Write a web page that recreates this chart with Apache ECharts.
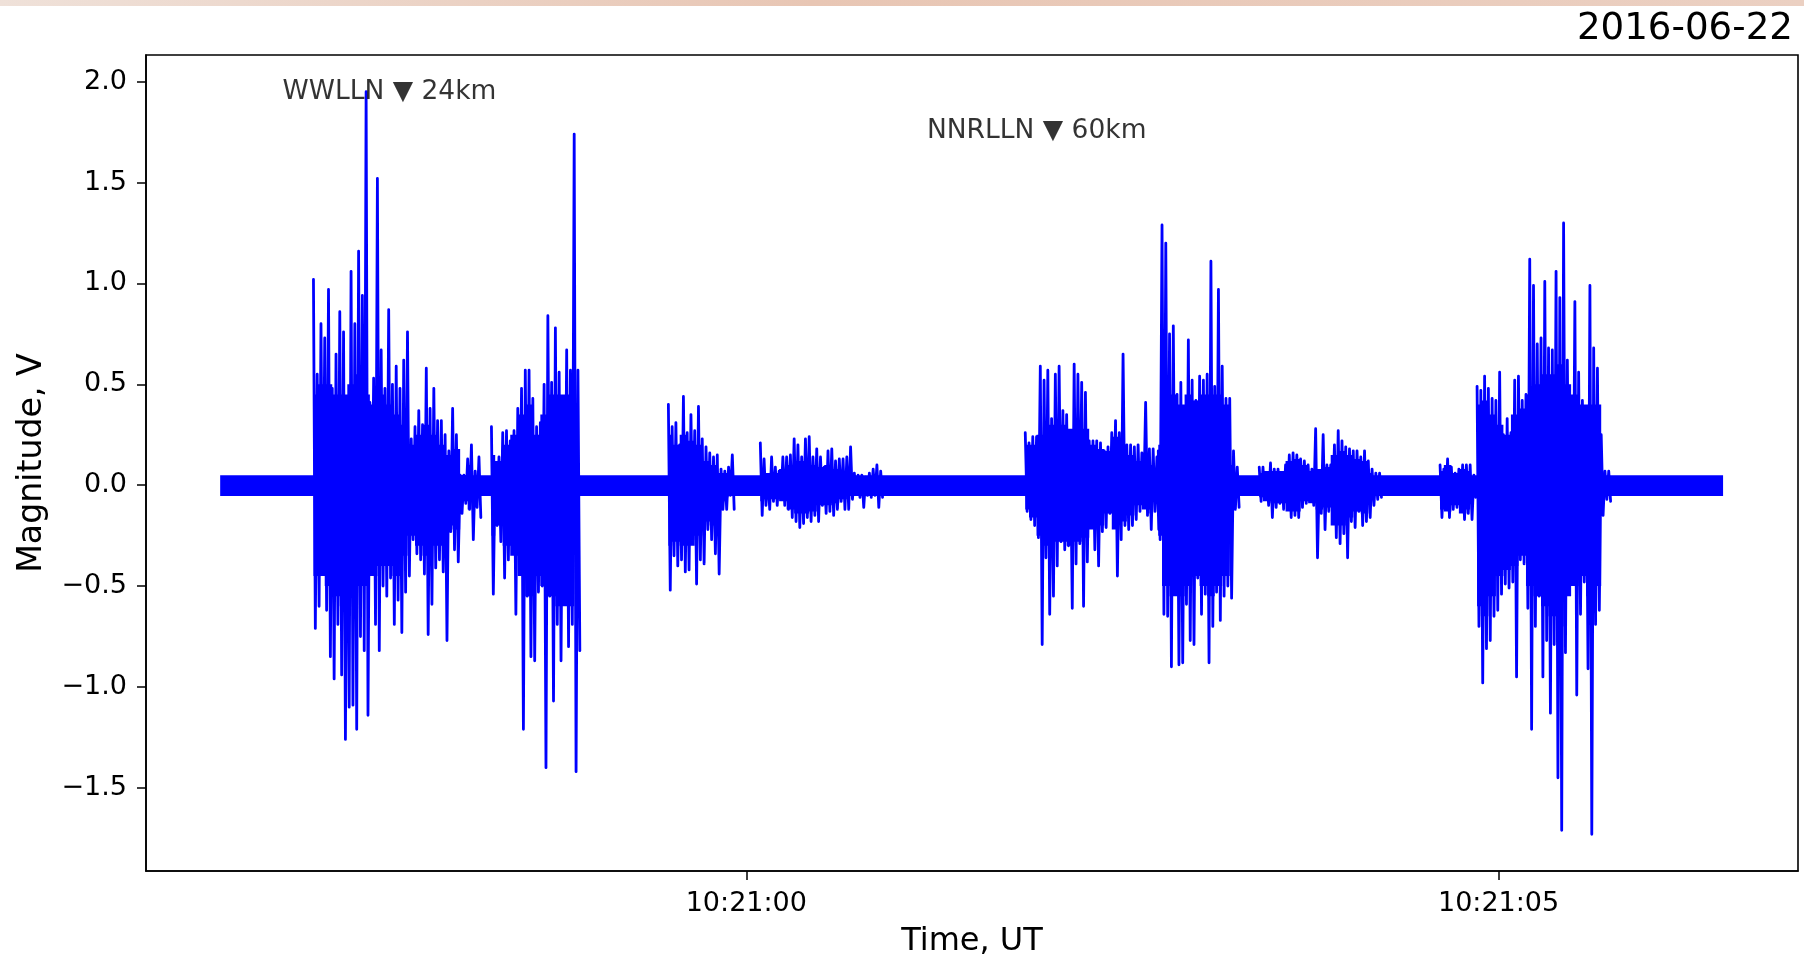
<!DOCTYPE html>
<html><head><meta charset="utf-8">
<script src="https://cdn.jsdelivr.net/npm/echarts@6/dist/echarts.min.js"></script>
<style>html,body{margin:0;padding:0;background:#fff}#c{width:1804px;height:955px}</style>
</head><body><div id="c"></div>
<script>
// ---- data (time in seconds relative to 10:21:00 UT, magnitude in V) ----
const dateTitle = '2016-06-22';
const xTickValues = [0, 5];
const xTickLabels = ['10:21:00', '10:21:05'];
const yTickValues = [-1.5, -1.0, -0.5, 0.0, 0.5, 1.0, 1.5, 2.0];
const xRange = [-3.99, 6.99];
const yRange = [-1.912, 2.132];
const sampleStep = 0.025;               // s between successive positive peaks
const coreStep = 0.05;                  // s between readings of the dense core envelope
const baselineSpan = [-3.497, 6.492];   // s, start/end of record
const baselineNoise = [-0.053, 0.049];  // V, quiet-noise band
const annotations = [
  ['WWLLN \u25BC 24km', -2.372, 1.950],
  ['NNRLLN \u25BC 60km', 1.930, 1.755]
];
const burstStarts = [-2.877, -1.694, -0.518, 0.093, 1.854, 2.738, 3.409, 4.611, 4.857];

// peak readings (alternating positive / negative excursions)
const b1Hi = [1.02,0.55,0.80,0.73,0.97,0.48,0.65,0.86,0.76,0.41,1.06,0.80,1.16,0.94,1.95,0.41,0.53,1.52,0.67,0.48,0.87,0.50,0.59,0.48,0.62,0.76,0.23,0.29,0.37,0.30,0.58,0.38,0.48,0.32,0.32,0.25,0.17,0.38,0.25,0.05,0.05,0.13,0.20,0.07,0.14];
const b1Lo = [-0.71,-0.60,-0.44,-0.62,-0.85,-0.96,-0.69,-0.94,-1.26,-1.10,-1.09,-1.21,-0.75,-0.82,-1.14,-0.43,-0.69,-0.82,-0.50,-0.55,-0.46,-0.69,-0.57,-0.73,-0.53,-0.45,-0.27,-0.34,-0.37,-0.44,-0.74,-0.59,-0.41,-0.37,-0.43,-0.77,-0.23,-0.32,-0.38,-0.14,-0.09,-0.12,-0.27,-0.11,-0.16];
const b2Hi = [0.29,0.11,0.14,0.26,0.27,0.22,0.27,0.38,0.48,0.57,0.57,0.43,0.29,0.31,0.50,0.84,0.51,0.78,0.56,0.43,0.67,0.57,1.74,0.57];
const b2Lo = [-0.54,-0.20,-0.28,-0.46,-0.37,-0.30,-0.64,-0.32,-1.21,-0.55,-0.85,-0.87,-0.53,-0.50,-1.40,-0.55,-1.07,-0.69,-0.87,-0.55,-0.80,-0.69,-1.42,-0.82];
const b3Hi = [0.40,0.29,0.31,0.20,0.44,0.26,0.35,0.27,0.39,0.23,0.19,0.16,0.14,0.15,0.08,0.07,0.09,0.15];
const b3Lo = [-0.52,-0.35,-0.40,-0.37,-0.43,-0.42,-0.27,-0.49,-0.37,-0.39,-0.22,-0.27,-0.34,-0.44,-0.12,-0.12,-0.05,-0.12];
const b4Hi = [0.21,0.13,0.05,0.14,0.09,0.07,0.14,0.14,0.15,0.23,0.20,0.14,0.23,0.24,0.14,0.18,0.14,0.09,0.17,0.18,0.12,0.13,0.13,0.14,0.19,0.06,0.05,0.05,0.04,0.06,0.08,0.10,0.07];
const b4Lo = [-0.15,-0.10,-0.12,-0.08,-0.10,-0.07,-0.10,-0.12,-0.16,-0.18,-0.21,-0.19,-0.16,-0.18,-0.15,-0.18,-0.10,-0.14,-0.13,-0.15,-0.12,-0.08,-0.12,-0.12,-0.07,-0.04,-0.06,-0.11,-0.05,-0.06,-0.05,-0.11,-0.06];
const b5Hi = [0.26,0.21,0.24,0.24,0.59,0.52,0.57,0.33,0.55,0.59,0.37,0.35,0.21,0.60,0.55,0.51,0.46,0.22,0.22,0.22,0.21,0.17,0.19,0.26,0.32,0.26,0.65,0.20,0.20,0.19,0.20,0.16,0.41,0.18,0.18,0.14];
const b5Lo = [-0.13,-0.17,-0.20,-0.26,-0.79,-0.36,-0.64,-0.55,-0.40,-0.28,-0.32,-0.30,-0.61,-0.39,-0.29,-0.60,-0.38,-0.21,-0.32,-0.40,-0.23,-0.21,-0.14,-0.17,-0.45,-0.27,-0.20,-0.22,-0.20,-0.17,-0.13,-0.08,-0.15,-0.22,-0.13,-0.22];
const b6Hi = [0.17,1.29,1.20,0.75,0.79,0.45,0.51,0.36,0.72,0.52,0.42,0.54,0.52,0.55,1.11,0.49,0.97,0.59,0.43,0.43,0.17,0.09];
const b6Lo = [-0.27,-0.64,-0.65,-0.90,-0.50,-0.89,-0.88,-0.59,-0.77,-0.79,-0.46,-0.64,-0.54,-0.88,-0.70,-0.53,-0.67,-0.55,-0.50,-0.56,-0.12,-0.11];
const b7Hi = [0.09,0.09,0.06,0.11,0.08,0.08,0.06,0.10,0.15,0.16,0.15,0.13,0.12,0.10,0.08,0.28,0.07,0.25,0.10,0.10,0.20,0.27,0.22,0.19,0.18,0.17,0.17,0.14,0.17,0.12,0.08,0.06,0.06];
const b7Lo = [-0.08,-0.07,-0.10,-0.16,-0.11,-0.09,-0.12,-0.10,-0.16,-0.15,-0.16,-0.11,-0.09,-0.08,-0.10,-0.36,-0.14,-0.22,-0.13,-0.12,-0.26,-0.29,-0.24,-0.36,-0.18,-0.21,-0.13,-0.20,-0.18,-0.16,-0.10,-0.07,-0.06];
const b8Hi = [0.10,0.08,0.13,0.09,0.06,0.08,0.10,0.10,0.10,0.05];
const b8Lo = [-0.16,-0.12,-0.16,-0.12,-0.11,-0.10,-0.17,-0.14,-0.17,-0.06];
const b9Hi = [0.49,0.47,0.54,0.48,0.43,0.42,0.56,0.25,0.33,0.26,0.52,0.54,0.42,0.45,1.12,0.99,0.70,0.73,1.01,0.68,0.67,1.06,0.93,1.30,0.62,0.43,0.91,0.56,0.42,0.36,0.99,0.68,0.58,0.25,0.07,0.07];
const b9Lo = [-0.70,-0.98,-0.81,-0.77,-0.65,-0.62,-0.54,-0.49,-0.51,-0.48,-0.95,-0.37,-0.39,-0.61,-1.21,-0.70,-0.55,-0.95,-0.77,-1.13,-0.79,-1.45,-1.71,-0.83,-0.42,-0.46,-1.04,-0.64,-0.48,-0.91,-1.73,-0.69,-0.62,-0.15,-0.07,-0.08];

// dense (solid) core envelope readings, one every coreStep
const c1Hi = [0.45,0.50,0.50,0.45,0.45,0.50,0.55,0.45,0.40,0.45,0.40,0.35,0.30,0.20,0.25,0.30,0.25,0.20,0.15,0.18,0.05,0.10];
const c1Lo = [-0.45,-0.45,-0.50,-0.55,-0.60,-0.55,-0.50,-0.50,-0.45,-0.40,-0.40,-0.45,-0.35,-0.25,-0.30,-0.35,-0.30,-0.30,-0.20,-0.22,-0.08,-0.12];
const c2Hi = [0.15,0.12,0.20,0.25,0.35,0.40,0.25,0.35,0.45,0.45,0.45,0.45];
const c2Lo = [-0.25,-0.20,-0.30,-0.35,-0.45,-0.55,-0.45,-0.50,-0.55,-0.60,-0.60,-0.60];
const c3Hi = [0.25,0.20,0.25,0.22,0.20,0.12,0.10,0.06,0.06];
const c3Lo = [-0.30,-0.28,-0.30,-0.30,-0.25,-0.18,-0.20,-0.08,-0.06];
const c4Hi = [0.08,0.06,0.06,0.08,0.10,0.12,0.12,0.10,0.09,0.10,0.08,0.07,0.06,0.04];
const c4Lo = [-0.08,-0.07,-0.07,-0.08,-0.12,-0.14,-0.14,-0.13,-0.10,-0.10,-0.09,-0.07,-0.05,-0.05];
const c5Hi = [0.20,0.20,0.25,0.30,0.30,0.30,0.28,0.30,0.28,0.20,0.18,0.17,0.24,0.18,0.15,0.12,0.12,0.10];
const c5Lo = [-0.12,-0.16,-0.25,-0.30,-0.28,-0.28,-0.30,-0.28,-0.26,-0.22,-0.20,-0.14,-0.22,-0.18,-0.15,-0.10,-0.12,-0.14];
const c6Hi = [0.20,0.45,0.45,0.40,0.45,0.42,0.45,0.45,0.45,0.40,0.10];
const c6Lo = [-0.25,-0.50,-0.55,-0.55,-0.50,-0.45,-0.50,-0.55,-0.50,-0.45,-0.10];
const c7Hi = [0.06,0.07,0.07,0.07,0.12,0.13,0.10,0.07,0.08,0.09,0.15,0.17,0.15,0.13,0.12,0.06];
const c7Lo = [-0.06,-0.08,-0.09,-0.09,-0.13,-0.13,-0.08,-0.09,-0.12,-0.11,-0.20,-0.20,-0.16,-0.13,-0.14,-0.08];
const c8Hi = [0.07,0.10,0.06,0.08,0.07];
const c8Lo = [-0.12,-0.13,-0.10,-0.14,-0.12];
const c9Hi = [0.40,0.42,0.35,0.30,0.25,0.35,0.38,0.45,0.50,0.55,0.55,0.60,0.50,0.45,0.40,0.40,0.40,0.06];
const c9Lo = [-0.60,-0.65,-0.55,-0.45,-0.42,-0.40,-0.35,-0.50,-0.55,-0.60,-0.65,-0.70,-0.55,-0.50,-0.45,-0.55,-0.50,-0.06];

const burstHi = [b1Hi,b2Hi,b3Hi,b4Hi,b5Hi,b6Hi,b7Hi,b8Hi,b9Hi];
const burstLo = [b1Lo,b2Lo,b3Lo,b4Lo,b5Lo,b6Lo,b7Lo,b8Lo,b9Lo];
const coreHi = [c1Hi,c2Hi,c3Hi,c4Hi,c5Hi,c6Hi,c7Hi,c8Hi,c9Hi];
const coreLo = [c1Lo,c2Lo,c3Lo,c4Lo,c5Lo,c6Lo,c7Lo,c8Lo,c9Lo];

// ---- chart ----
const BLUE = '#0000ff';
const FONT = 'DejaVu Sans';
const chart = echarts.init(document.getElementById('c'), null, {renderer: 'canvas'});

const series = [];
// quiet noise band
series.push({
  type: 'line', symbol: 'none', silent: true, z: 2,
  data: [[baselineSpan[0], 0], [baselineSpan[1], 0]],
  lineStyle: {width: 0},
  markArea: {silent: true, itemStyle: {color: BLUE, opacity: 1, borderWidth: 0},
    data: [[{coord: [baselineSpan[0], baselineNoise[0]]}, {coord: [baselineSpan[1], baselineNoise[1]]}]]}
});
// dense cores
burstStarts.forEach((t0, k) => {
  [coreHi[k], coreLo[k]].forEach(arr => {
    series.push({
      type: 'line', symbol: 'none', silent: true, z: 2, step: 'middle',
      data: arr.map((v, j) => [t0 + j * coreStep, v]),
      lineStyle: {width: 0}, areaStyle: {color: BLUE, opacity: 1, origin: 0}
    });
  });
});
// bursts (peak-to-peak trace)
burstStarts.forEach((t0, k) => {
  const hi = burstHi[k], lo = burstLo[k];
  const d = [];
  for (let i = 0; i < hi.length; i++) {
    d.push([t0 + i * sampleStep, hi[i]]);
    d.push([t0 + (i + 0.5) * sampleStep, lo[i]]);
  }
  series.push({
    type: 'line', symbol: 'none', silent: true, z: 3, data: d,
    lineStyle: {color: BLUE, width: 2.8, join: 'round', cap: 'round'}
  });
});
// text annotations placed in data coordinates
series.push({
  type: 'scatter', z: 5, silent: true, symbolSize: 1,
  itemStyle: {color: 'rgba(0,0,0,0)'},
  data: annotations.map(a => [a[1], a[2], a[0]]),
  label: {show: true, position: 'inside', formatter: p => p.data[2],
    color: '#000', fontSize: 26.5, fontFamily: FONT}
});

const fmtY = v => (v < 0 ? '\u2212' : '') + Math.abs(v).toFixed(1);

chart.setOption({
  animation: false,
  backgroundColor: '#fff',
  grid: {left: 146, right: 6, top: 55, bottom: 84, show: true,
    borderColor: '#000', borderWidth: 1.6, backgroundColor: 'transparent'},
  xAxis: {
    type: 'value', min: xRange[0], max: xRange[1],
    axisLine: {show: true, onZero: false, lineStyle: {color: '#000', width: 1.6}},
    axisTick: {show: true, length: 9, customValues: xTickValues, lineStyle: {color: '#000', width: 1.5}},
    axisLabel: {customValues: xTickValues, margin: 19, color: '#000', fontSize: 27, fontFamily: FONT,
      formatter: v => xTickLabels[xTickValues.indexOf(v)]},
    splitLine: {show: false}
  },
  yAxis: {
    type: 'value', min: yRange[0], max: yRange[1],
    axisLine: {show: true, onZero: false, lineStyle: {color: '#000', width: 1.6}},
    axisTick: {show: true, length: 9, customValues: yTickValues, lineStyle: {color: '#000', width: 1.5}},
    axisLabel: {customValues: yTickValues, margin: 19, color: '#000', fontSize: 27, fontFamily: FONT,
      formatter: fmtY},
    splitLine: {show: false}
  },
  graphic: [
    {type: 'rect', silent: true, shape: {x: 0, y: 0, width: 1804, height: 6},
      style: {fill: new echarts.graphic.LinearGradient(0, 0, 1, 0, [
        {offset: 0, color: '#efe1d9'}, {offset: 0.45, color: '#e8c6b4'}, {offset: 1, color: '#ebd0c2'}])}},
    {type: 'text', silent: true, x: 1793, y: 29.5,
      style: {text: dateTitle, textAlign: 'right', textVerticalAlign: 'middle', fill: '#000',
        fontSize: 37.2, fontFamily: FONT}},
    {type: 'text', silent: true, x: 972, y: 941.5,
      style: {text: 'Time, UT', textAlign: 'center', textVerticalAlign: 'middle', fill: '#000',
        fontSize: 32, fontFamily: FONT}},
    {type: 'text', silent: true, x: 32, y: 463, rotation: Math.PI / 2,
      style: {text: 'Magnitude, V', textAlign: 'center', textVerticalAlign: 'middle', fill: '#000',
        fontSize: 33.2, fontFamily: FONT}}
  ],
  series: series
});
</script>
</body></html>
